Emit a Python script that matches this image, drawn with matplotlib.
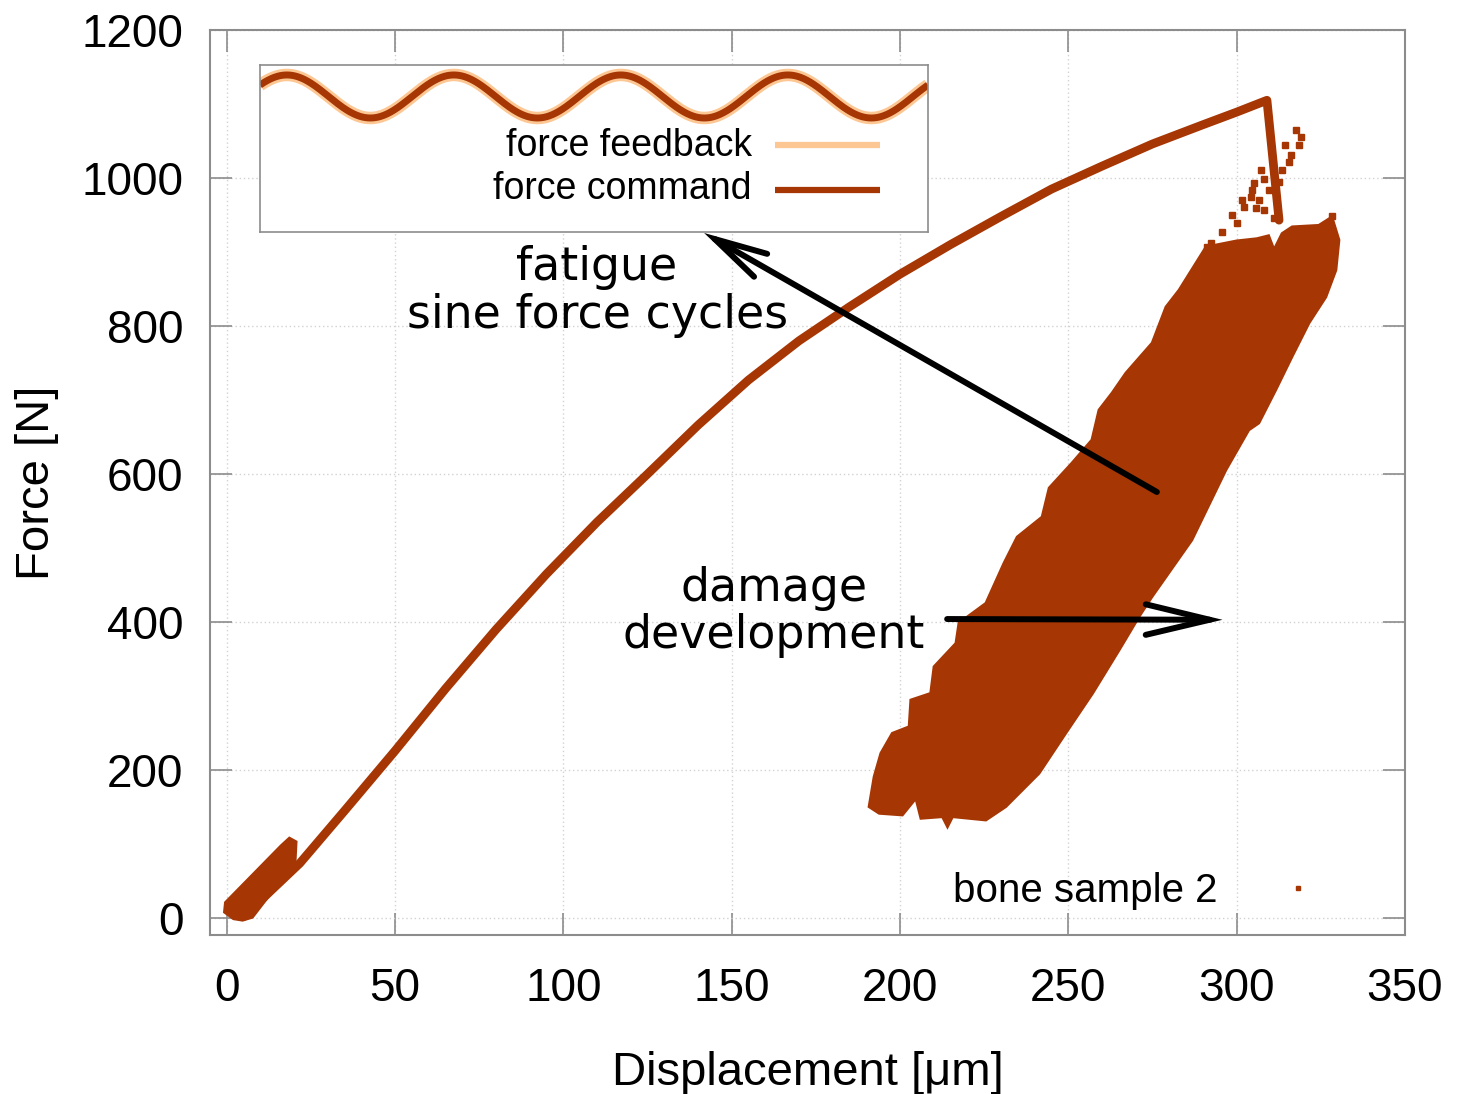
import numpy as np
import matplotlib
matplotlib.use("Agg")
import matplotlib.pyplot as plt
from matplotlib.patches import Polygon, ArrowStyle

SAMPLE_COLOR = "#a63603"
FEEDBACK_COLOR = "#fdc794"
GRID_COLOR = "#d2d2d2"
FRAME_COLOR = "#8c8c8c"
TICK_FONT = "Liberation Sans"
NOTE_FONT = "DejaVu Sans"

# Quasi-static ramp to failure (displacement in µm, force in N)
ramp_disp = [5.0, 21.7, 35, 50, 65, 80, 95, 110, 125, 140, 155, 170, 185,
             200, 215, 230, 245, 260, 275, 290, 300, 309.0, 312.6]
ramp_force = [2, 74, 145, 226, 310, 390, 465, 535, 600, 666, 727, 780, 826,
              870, 910, 948, 985, 1016, 1046, 1072, 1089, 1105, 943]

# Settling cycles at the start of the test (outline of the point cluster)
settle_disp = [-0.7, -0.4, 16.2, 18.6, 20.6, 20.3, 7.6, 4.7, 2.0]
settle_force = [8, 21, 98, 108, 103, 76, 1, -3, -1]

# Fatigue sine-force cycles: outline of the dense point cloud
cloud_disp = [290.9, 282.9, 279.0, 274.9, 267.1, 263.0, 259.1, 257.0, 251.1,
              244.3, 242.2, 234.8, 230.9, 225.5, 217.5, 216.6, 210.1, 209.1,
              203.2, 202.7, 197.7, 194.3, 192.3, 190.8, 193.8, 200.7, 204.7,
              206.2, 212.6, 214.1, 215.6, 225.5, 231.4, 241.3, 249.2, 257.2,
              265.1, 271.0, 274.8, 286.7, 296.8, 303.6, 306.6, 311.6, 316.4,
              321.5, 326.5, 329.5, 330.4, 328.3, 324.4, 316.5, 313.5, 311.1,
              309.5, 306.0, 300.0]
cloud_force = [906.8, 848.6, 825.7, 777.0, 736.5, 709.5, 686.5, 646.0, 614.9,
               581.1, 541.9, 514.9, 479.7, 425.3, 398.6, 371.2, 339.6, 303.6,
               294.6, 258.5, 249.6, 222.6, 190.9, 150.4, 141.5, 139.2, 161.7,
               134.7, 136.9, 123.4, 136.9, 132.4, 150.4, 195.5, 249.6, 303.6,
               362.2, 407.2, 433.8, 510.8, 605.4, 659.5, 668.9, 713.5, 758.1,
               804.1, 839.2, 875.7, 916.2, 947.3, 936.0, 934.0, 925.0, 903.0,
               922.0, 918.0, 915.0]

# Isolated points scattered above the cloud after the peak
spread_disp = [317.6, 319.0, 318.5, 314.5, 316.0, 315.5, 307.1, 313.5, 308.1,
               305.1, 312.6, 304.6, 301.7, 306.7, 302.3, 305.8, 298.7, 308.1,
               311.1, 295.7, 300.0, 292.3, 291.3, 328.4, 309.6, 304.2]
spread_force = [1064.9, 1055.8, 1044.6, 1044.6, 1031.1, 1022.0, 1010.8, 1010.8,
                998.2, 992.8, 995.0, 983.8, 970.3, 970.3, 961.2, 959.0, 950.0,
                956.8, 945.5, 927.4, 938.7, 911.7, 907.2, 948.6, 983.8, 974.8]

x_ticks = [0, 50, 100, 150, 200, 250, 300, 350]
y_ticks = [0, 200, 400, 600, 800, 1000, 1200]

# Inset: sine force command, four cycles
inset_cycles = 4
command_mean = 525.0
command_amp = 375.0
command_phase = 0.56
inset_labels = ["force feedback", "force command"]

fig = plt.figure(figsize=(14.6, 10.94), dpi=100)
ax = fig.add_axes([0.1438, 0.1453, 0.8185, 0.8273])

ax.set_xlim(-5, 350)
ax.set_ylim(-23, 1200)
ax.set_xticks(x_ticks)
ax.set_yticks(y_ticks)
ax.grid(True, color=GRID_COLOR, linestyle=(0, (1, 2)), linewidth=1.0)
ax.set_axisbelow(True)
for s in ax.spines.values():
    s.set_color(FRAME_COLOR)
    s.set_linewidth(1.5)
ax.tick_params(direction="in", length=16, width=1.2, color=FRAME_COLOR,
               top=True, right=True, labelsize=33)
ax.tick_params(axis="x", pad=23)
ax.tick_params(axis="y", pad=19)
for lab in ax.get_xticklabels() + ax.get_yticklabels():
    lab.set_family(TICK_FONT)

ax.set_xlabel("Displacement [μm]", fontsize=34, family=TICK_FONT)
ax.set_ylabel("Force [N]", fontsize=34, family=TICK_FONT)
ax.xaxis.set_label_coords(0.5, -0.128)
ax.yaxis.set_label_coords(-0.126, 0.5)

# Sample data
ax.plot(ramp_disp, ramp_force, color=SAMPLE_COLOR, lw=6.3,
        solid_capstyle="round", solid_joinstyle="round", zorder=3)
ax.add_patch(Polygon(np.column_stack([settle_disp, settle_force]),
                     closed=True, facecolor=SAMPLE_COLOR,
                     edgecolor=SAMPLE_COLOR, lw=2, zorder=3))
ax.add_patch(Polygon(np.column_stack([cloud_disp, cloud_force]),
                     closed=True, facecolor=SAMPLE_COLOR,
                     edgecolor=SAMPLE_COLOR, lw=2, zorder=3))
ax.plot(spread_disp, spread_force, linestyle="none", marker="s",
        markersize=4.8, color=SAMPLE_COLOR, zorder=3)

# Key for the sample
ax.text(0.8435, 0.0365, "bone sample 2", transform=ax.transAxes,
        ha="right", va="baseline", fontsize=29, family=TICK_FONT)
ax.plot([0.9105], [0.0519], transform=ax.transAxes, linestyle="none",
        marker="s", markersize=3.5, color=SAMPLE_COLOR)

# Annotations (baseline refers to the last line)
ax.text(110.0, 797, "fatigue\nsine force cycles", ha="center", va="baseline",
        fontsize=33, family=NOTE_FONT, linespacing=1.1)
ax.text(162.5, 365, "damage\ndevelopment", ha="center", va="baseline",
        fontsize=33, family=NOTE_FONT, linespacing=1.06)

ax.annotate("", xy=(141.8, 925.7), xytext=(276.3, 575.7),
            arrowprops=dict(arrowstyle=ArrowStyle("->", head_length=38, head_width=9.5),
                            mutation_scale=1, lw=4.3, color="black",
                            shrinkA=0, shrinkB=0, capstyle="round",
                            joinstyle="miter"), zorder=5)
ax.annotate("", xy=(295.8, 403.0), xytext=(214.0, 404.0),
            arrowprops=dict(arrowstyle=ArrowStyle("->", head_length=46, head_width=11),
                            mutation_scale=1, lw=4.3, color="black",
                            shrinkA=0, shrinkB=0, capstyle="round",
                            joinstyle="miter"), zorder=5)

# Inset with the force signals
ax_in = fig.add_axes([0.1781, 0.7879, 0.4575, 0.1527])
t = np.linspace(0, inset_cycles, 800)
command = command_mean + command_amp * np.sin(2 * np.pi * t + command_phase)
ax_in.plot(t, command, color=FEEDBACK_COLOR, lw=9, solid_capstyle="butt")
ax_in.plot(t, command, color=SAMPLE_COLOR, lw=5.0, solid_capstyle="butt")
ax_in.set_xlim(0, inset_cycles)
ax_in.set_ylim(-1838, 1074)
ax_in.set_xticks([])
ax_in.set_yticks([])
for s in ax_in.spines.values():
    s.set_color(FRAME_COLOR)
    s.set_linewidth(1.2)

for label, color, ybase, yline in zip(inset_labels,
                                      [FEEDBACK_COLOR, SAMPLE_COLOR],
                                      [0.457, 0.198], [0.521, 0.251]):
    ax_in.text(0.7365, ybase, label, transform=ax_in.transAxes, ha="right",
               va="baseline", fontsize=27, family=TICK_FONT)
    ax_in.plot([0.771, 0.928], [yline, yline], transform=ax_in.transAxes,
               color=color, lw=4.5, solid_capstyle="butt")

fig.savefig("out.png", dpi=100)
